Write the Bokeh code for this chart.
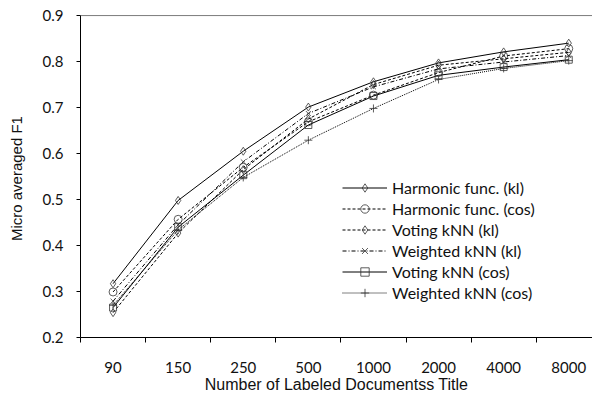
from bokeh.plotting import figure
from bokeh.models import FixedTicker, Range1d, Span, Legend, LegendItem, NumeralTickFormatter
from bokeh.embed import file_html
from bokeh.resources import INLINE

categories = ["90", "150", "250", "500", "1000", "2000", "4000", "8000"]
harmonic_kl = [0.317, 0.498, 0.605, 0.701, 0.756, 0.797, 0.821, 0.840]
harmonic_cos = [0.299, 0.457, 0.570, 0.669, 0.727, 0.776, 0.812, 0.828]
voting_kl = [0.254, 0.427, 0.565, 0.675, 0.750, 0.792, 0.806, 0.820]
weighted_kl = [0.279, 0.445, 0.582, 0.687, 0.745, 0.784, 0.799, 0.813]
voting_cos = [0.265, 0.440, 0.553, 0.662, 0.725, 0.770, 0.788, 0.804]
weighted_cos = [0.270, 0.434, 0.548, 0.629, 0.698, 0.761, 0.785, 0.802]
y_ticks = [0.2, 0.3, 0.4, 0.5, 0.6, 0.7, 0.8, 0.9]

xs = [i + 0.5 for i in range(len(categories))]
cat_w = 65.1
frame_w = 512

p = figure(width=592, height=395, output_backend="svg", toolbar_location=None,
           x_range=Range1d(0, frame_w / cat_w), y_range=Range1d(0.2, 0.9001),
           min_border_left=80, min_border_right=0, min_border_top=15, min_border_bottom=57)
p.outline_line_color = None
p.grid.visible = False
p.background_fill_color = "white"

TXT = "#111111"
LBL_FONT = "Lato"

# x axis
xa = p.xaxis[0]
xa.ticker = FixedTicker(ticks=xs, minor_ticks=list(range(len(categories) + 1)))
xa.major_label_overrides = {x: c for x, c in zip(xs, categories)}
xa.major_tick_out = 0
xa.major_tick_in = 0
xa.minor_tick_out = 5
xa.minor_tick_in = 0
xa.minor_tick_line_color = "black"
xa.axis_line_color = "black"
xa.major_label_text_font = LBL_FONT
xa.major_label_text_font_size = "15px"
xa.major_label_text_color = TXT
xa.major_label_standoff = 19
xa.axis_label = "Number of Labeled Documentss Title"
xa.axis_label_text_font = "Liberation Sans"
xa.axis_label_text_font_style = "normal"
xa.axis_label_text_font_size = "16px"
xa.axis_label_text_line_height = 0.9
xa.axis_label_text_color = TXT
xa.axis_label_standoff = 0

# y axis
ya = p.yaxis[0]
ya.ticker = FixedTicker(ticks=y_ticks, minor_ticks=[])
ya.formatter = NumeralTickFormatter(format="0.0")
ya.major_tick_out = 4
ya.major_tick_in = 0
ya.axis_line_color = "black"
ya.major_tick_line_color = "black"
ya.major_label_text_font = LBL_FONT
ya.major_label_text_font_size = "15px"
ya.major_label_text_color = TXT
ya.major_label_standoff = 13
ya.axis_label = "Micro averaged  F1"
ya.axis_label_text_font = "Liberation Sans"
ya.axis_label_text_font_style = "normal"
ya.axis_label_text_font_size = "15px"
ya.axis_label_text_color = TXT
ya.axis_label_standoff = 15

p.add_layout(Span(location=0.9, dimension="width", line_color="black", line_width=1))

series = [
    ("Harmonic func. (kl)", harmonic_kl, "solid", "diamond", 8),
    ("Harmonic func. (cos)", harmonic_cos, "3 2", "circle", 8),
    ("Voting kNN (kl)", voting_kl, "3 2", "diamond", 8),
    ("Weighted kNN (kl)", weighted_kl, "4 2 1 2", "x", 7),
    ("Voting kNN (cos)", voting_cos, "solid", "square", 7),
    ("Weighted kNN (cos)", weighted_cos, "1 1", "cross", 8),
]

items = []
for name, ys, dash, marker, size in series:
    lr = p.line(xs, ys, line_color="black", line_width=1, line_dash=dash)
    sr = p.scatter(xs, ys, marker=marker, size=size, line_color="#333333",
                   fill_color=None, line_width=0.8)
    items.append(LegendItem(label=name, renderers=[lr, sr]))

legend = Legend(items=items, location=(262, 34), orientation="vertical",
                background_fill_alpha=0, border_line_color=None,
                padding=0, margin=0, spacing=0,
                glyph_width=45, glyph_height=21, label_height=21,
                label_standoff=5,
                label_text_font=LBL_FONT, label_text_font_size="16px",
                label_text_color=TXT)
p.add_layout(legend, "center")

open("out.html", "w").write(file_html(p, INLINE))
